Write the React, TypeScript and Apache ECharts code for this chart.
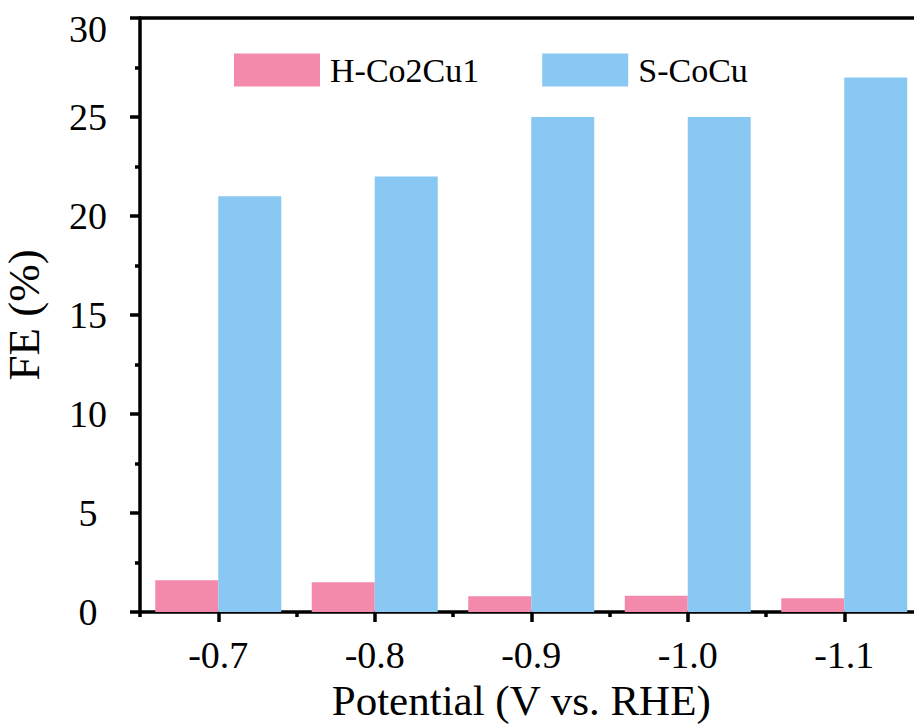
import React, { useEffect, useRef } from "react";
import * as echarts from "echarts";

const categories = ["-0.7", "-0.8", "-0.9", "-1.0", "-1.1"];
const hCo2Cu1 = [1.6, 1.5, 0.8, 0.82, 0.7];
const sCoCu = [21, 22, 25, 25, 27];
const seriesNames = ["H-Co2Cu1", "S-CoCu"];
const yMin = 0;
const yMax = 30;
const yInterval = 5;

const FONT = "Liberation Serif";
const LW = 3.5;

export default function App() {
  const ref = useRef<HTMLDivElement>(null);
  useEffect(() => {
    if (!ref.current) return;
    const chart = echarts.init(ref.current, undefined, { renderer: "svg" });
    chart.setOption({
      animation: false,
      backgroundColor: "#ffffff",
      textStyle: { fontFamily: FONT, color: "#000" },
      legend: {
        data: seriesNames,
        left: 229,
        top: 48,
        icon: "rect",
        itemWidth: 86,
        itemHeight: 33,
        itemGap: 63,
        textStyle: { fontFamily: FONT, fontSize: 34, color: "#000", padding: [0, 0, 0, 5] },
      },
      grid: {
        left: 140,
        top: 18,
        right: -8.5,
        bottom: 114,
        containLabel: false,
        outerBoundsMode: "none",
      },
      xAxis: [
        {
          type: "category",
          data: categories,
          position: "bottom",
          axisLine: { show: true, lineStyle: { color: "#000", width: LW } },
          axisTick: { show: true, alignWithLabel: true, length: 10, lineStyle: { color: "#000", width: LW } },
          axisLabel: { fontFamily: FONT, fontSize: 38, color: "#000", margin: 24 },
          name: "Potential (V vs. RHE)",
          nameLocation: "middle",
          nameGap: 68,
          nameTextStyle: {
            fontFamily: FONT,
            fontSize: 43,
            lineHeight: 38,
            color: "#000",
            padding: [0, 20, 0, 0],
          },
        },
        {
          type: "category",
          data: categories,
          position: "bottom",
          axisLine: { show: false },
          axisTick: { show: true, length: 5, lineStyle: { color: "#000", width: LW } },
          axisLabel: { show: false },
        },
        {
          type: "category",
          data: categories,
          position: "top",
          axisLine: { show: true, lineStyle: { color: "#000", width: LW } },
          axisTick: { show: false },
          axisLabel: { show: false },
        },
      ],
      yAxis: {
        type: "value",
        min: yMin,
        max: yMax,
        interval: yInterval,
        axisLine: { show: true, lineStyle: { color: "#000", width: LW } },
        axisTick: { show: true, length: 10, lineStyle: { color: "#000", width: LW } },
        minorTick: { show: true, splitNumber: 2, length: 5, lineStyle: { color: "#000", width: LW } },
        splitLine: { show: false },
        axisLabel: {
          fontFamily: FONT,
          fontSize: 38,
          lineHeight: 30,
          color: "#000",
          margin: 52,
          align: "center",
          formatter: (v: number) => (v === yMax ? `{t|${v}}` : `${v}`),
          rich: {
            t: { fontFamily: FONT, fontSize: 38, lineHeight: 30, color: "#000", padding: [21, 0, 0, 0] },
          },
        },
        name: "FE (%)",
        nameLocation: "middle",
        nameGap: 96,
        nameTextStyle: { fontFamily: FONT, fontSize: 45, lineHeight: 40, color: "#000" },
      },
      series: [
        {
          name: seriesNames[0],
          type: "bar",
          data: hCo2Cu1,
          barGap: "0%",
          barCategoryGap: "19.5%",
          itemStyle: { color: "#F48AAB" },
        },
        {
          name: seriesNames[1],
          type: "bar",
          data: sCoCu,
          barGap: "0%",
          barCategoryGap: "19.5%",
          itemStyle: { color: "#88C8F2" },
        },
      ],
    });
    return () => chart.dispose();
  }, []);
  return (
    <div
      ref={ref}
      style={{ position: "fixed", left: 0, top: 0, width: 914, height: 726, background: "#fff" }}
    />
  );
}
